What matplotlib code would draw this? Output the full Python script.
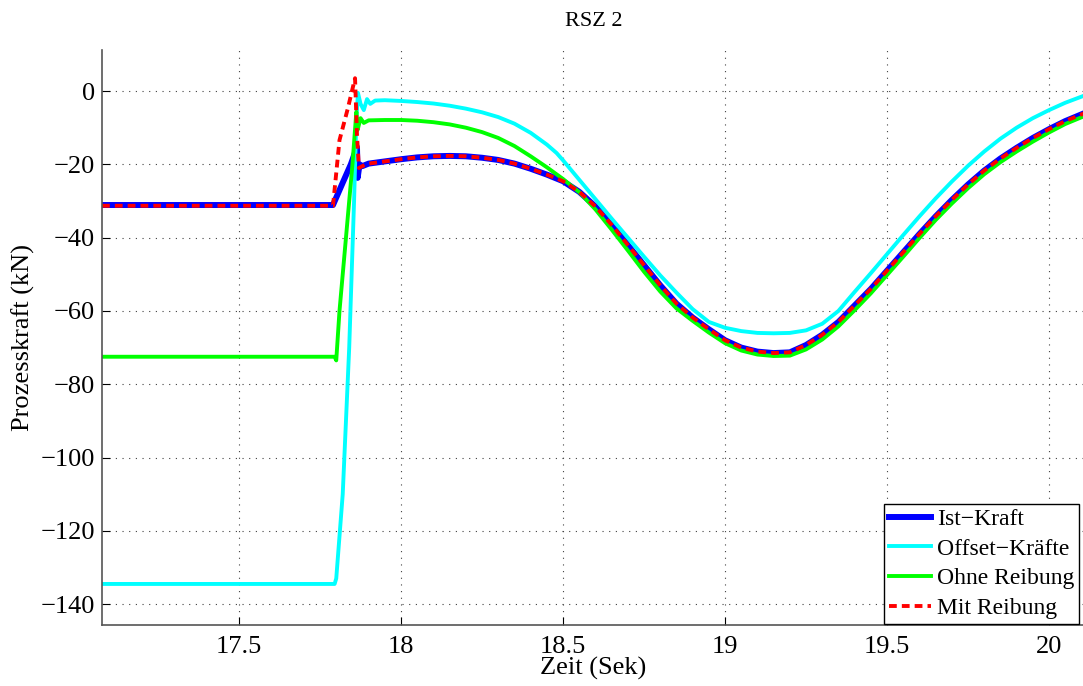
import matplotlib.pyplot as plt

# ===== data =====
# Ist-Kraft (blue)
t_ist = [17.077, 17.79, 17.82, 17.845, 17.864, 17.866, 17.872, 17.88, 17.9, 17.95,
         18.0, 18.05, 18.1, 18.15, 18.2, 18.25, 18.3, 18.35, 18.4, 18.45,
         18.5, 18.55, 18.6, 18.65, 18.7, 18.75, 18.8, 18.85, 18.9, 18.95,
         19.0, 19.05, 19.1, 19.15, 19.2, 19.25, 19.3, 19.35, 19.4, 19.45,
         19.5, 19.55, 19.6, 19.65, 19.7, 19.75, 19.8, 19.85, 19.9, 19.95,
         20.0, 20.05, 20.11]
f_ist = [-31.1, -31.1, -25.0, -20.0, -15.3, -23.7, -20.0, -20.5, -19.8, -19.2,
         -18.6, -18.1, -17.8, -17.7, -17.8, -18.2, -18.8, -19.8, -21.2, -22.8,
         -24.6, -27.5, -31.5, -36.5, -42.0, -47.5, -53.0, -58.0, -61.8, -65.0,
         -68.0, -70.0, -71.1, -71.5, -71.3, -69.3, -66.5, -63.0, -58.5, -54.0,
         -49.0, -44.0, -39.0, -34.2, -29.7, -25.5, -21.7, -18.4, -15.5, -12.8,
         -10.4, -8.2, -6.0]

# Offset-Kraefte (cyan)
t_off = [17.077, 17.795, 17.80, 17.82, 17.84, 17.855, 17.862, 17.867, 17.875, 17.885,
         17.895, 17.905, 17.92, 17.95, 18.0, 18.05, 18.1, 18.15, 18.2, 18.25,
         18.3, 18.35, 18.4, 18.45, 18.48, 18.5, 18.55, 18.6, 18.65, 18.7,
         18.75, 18.8, 18.85, 18.9, 18.95, 19.0, 19.05, 19.1, 19.15, 19.2,
         19.25, 19.3, 19.35, 19.4, 19.45, 19.5, 19.55, 19.6, 19.65, 19.7,
         19.75, 19.8, 19.85, 19.9, 19.95, 20.0, 20.05, 20.11]
f_off = [-134.5, -134.5, -133.0, -110.0, -70.0, -30.0, -8.0, -0.5, -3.5, -5.2,
         -2.2, -3.5, -2.6, -2.5, -2.7, -3.0, -3.4, -4.0, -4.8, -5.8,
         -7.1, -8.9, -11.4, -14.6, -16.9, -18.9, -24.2, -29.5, -34.8, -40.0,
         -45.2, -50.3, -55.0, -59.5, -63.0, -64.6, -65.5, -66.0, -66.1, -66.0,
         -65.3, -63.5, -60.0, -54.8, -49.7, -44.5, -39.3, -34.2, -29.3, -24.7,
         -20.4, -16.5, -13.0, -10.0, -7.4, -5.2, -3.2, -1.2]

# Ohne Reibung (green)
t_ohne = [17.077, 17.795, 17.80, 17.81, 17.83, 17.85, 17.862, 17.866, 17.875, 17.885,
          17.9, 17.95, 18.0, 18.05, 18.1, 18.15, 18.2, 18.25, 18.3, 18.35,
          18.4, 18.45, 18.5, 18.55, 18.6, 18.65, 18.7, 18.75, 18.8, 18.85,
          18.9, 18.95, 19.0, 19.05, 19.1, 19.15, 19.2, 19.25, 19.3, 19.35,
          19.4, 19.45, 19.5, 19.55, 19.6, 19.65, 19.7, 19.75, 19.8, 19.85,
          19.9, 19.95, 20.0, 20.05, 20.11]
f_ohne = [-72.5, -72.5, -73.5, -60.0, -40.0, -20.0, -5.7, -10.6, -7.4, -8.7,
          -8.0, -7.9, -7.9, -8.1, -8.5, -9.1, -10.0, -11.2, -12.8, -15.0,
          -17.8, -20.8, -24.0, -27.6, -32.3, -37.8, -43.5, -49.3, -54.7, -59.3,
          -62.7, -65.9, -68.8, -70.8, -71.9, -72.3, -72.2, -70.5, -67.8, -64.2,
          -59.8, -55.2, -50.2, -45.2, -40.1, -35.2, -30.7, -26.5, -22.7, -19.4,
          -16.5, -13.8, -11.3, -9.0, -6.8]

# Mit Reibung (red, dashed)
t_mit = [17.077, 17.79, 17.81, 17.835, 17.858, 17.864, 17.87, 17.88, 17.9, 17.95,
         18.0, 18.05, 18.1, 18.15, 18.2, 18.25, 18.3, 18.35, 18.4, 18.45,
         18.5, 18.55, 18.6, 18.65, 18.7, 18.75, 18.8, 18.85, 18.9, 18.95,
         19.0, 19.05, 19.1, 19.15, 19.2, 19.25, 19.3, 19.35, 19.4, 19.45,
         19.5, 19.55, 19.6, 19.65, 19.7, 19.75, 19.8, 19.85, 19.9, 19.95,
         20.0, 20.05, 20.11]
f_mit = [-31.3, -31.3, -13.4, -5.0, 3.5, -12.0, -21.0, -20.5, -19.8, -19.2,
         -18.6, -18.1, -17.8, -17.7, -17.8, -18.2, -18.8, -19.8, -21.2, -22.8,
         -24.6, -27.5, -31.5, -36.5, -42.0, -47.5, -53.0, -58.0, -61.8, -65.0,
         -68.0, -70.0, -71.1, -71.5, -71.3, -69.3, -66.5, -63.0, -58.5, -54.0,
         -49.0, -44.0, -39.0, -34.2, -29.7, -25.5, -21.7, -18.4, -15.5, -12.8,
         -10.4, -8.2, -6.0]

x_ticks = [17.5, 18, 18.5, 19, 19.5, 20]
x_tick_labels = ['17.5', '18', '18.5', '19', '19.5', '20']
y_ticks = [0, -20, -40, -60, -80, -100, -120, -140]

# ===== plot =====
plt.rcParams['font.family'] = ['Liberation Serif', 'DejaVu Serif']
plt.rcParams['font.size'] = 19

W, H = 1083, 686
fig = plt.figure(figsize=(W / 100, H / 100), dpi=100)
ax = fig.add_axes([102 / W, 1 - 625 / H, (1085 - 102) / W, (625 - 50) / H])

ax.plot(t_ist, f_ist, color='#0000ff', lw=4.3, label='Ist\u2212Kraft')
ax.plot(t_off, f_off, color='#00ffff', lw=2.8, label='Offset\u2212Kr\u00e4fte')
ax.plot(t_ohne, f_ohne, color='#00ff00', lw=2.8, label='Ohne Reibung')
ax.plot(t_mit, f_mit, color='#ff0000', lw=2.8, ls=(0, (2, 1.3)), label='Mit Reibung')

ax.set_xlim(17.077, 20.111)
ax.set_ylim(-145.7, 11.2)
ax.set_xticks(x_ticks)
ax.set_xticklabels(x_tick_labels)
ax.set_yticks(y_ticks)

ax.grid(True, color='#404040', ls=(0, (1, 5)), lw=0.8)
ax.tick_params(direction='in', length=6, width=0.8)
ax.tick_params(axis='x', pad=8)
ax.tick_params(axis='y', pad=5)
for s in ['top', 'right']:
    ax.spines[s].set_visible(False)
for s in ['left', 'bottom']:
    ax.spines[s].set_color('#555555')
    ax.spines[s].set_linewidth(1.2)

ax.set_title('RSZ 2', fontsize=16, pad=17)
ax.set_xlabel('Zeit (Sek)', labelpad=-1)
ax.set_ylabel('Prozesskraft (kN)', labelpad=4)

leg = ax.legend(loc='lower right', bbox_to_anchor=(1079 / W, 1 - 624 / H),
                bbox_transform=fig.transFigure, fontsize=17,
                fancybox=False, framealpha=1, edgecolor='black',
                handlelength=1.8, handletextpad=0.25, borderpad=0.2,
                labelspacing=0.35, borderaxespad=0)
leg.get_frame().set_linewidth(1.0)

fig.savefig('out.png', dpi=100)
